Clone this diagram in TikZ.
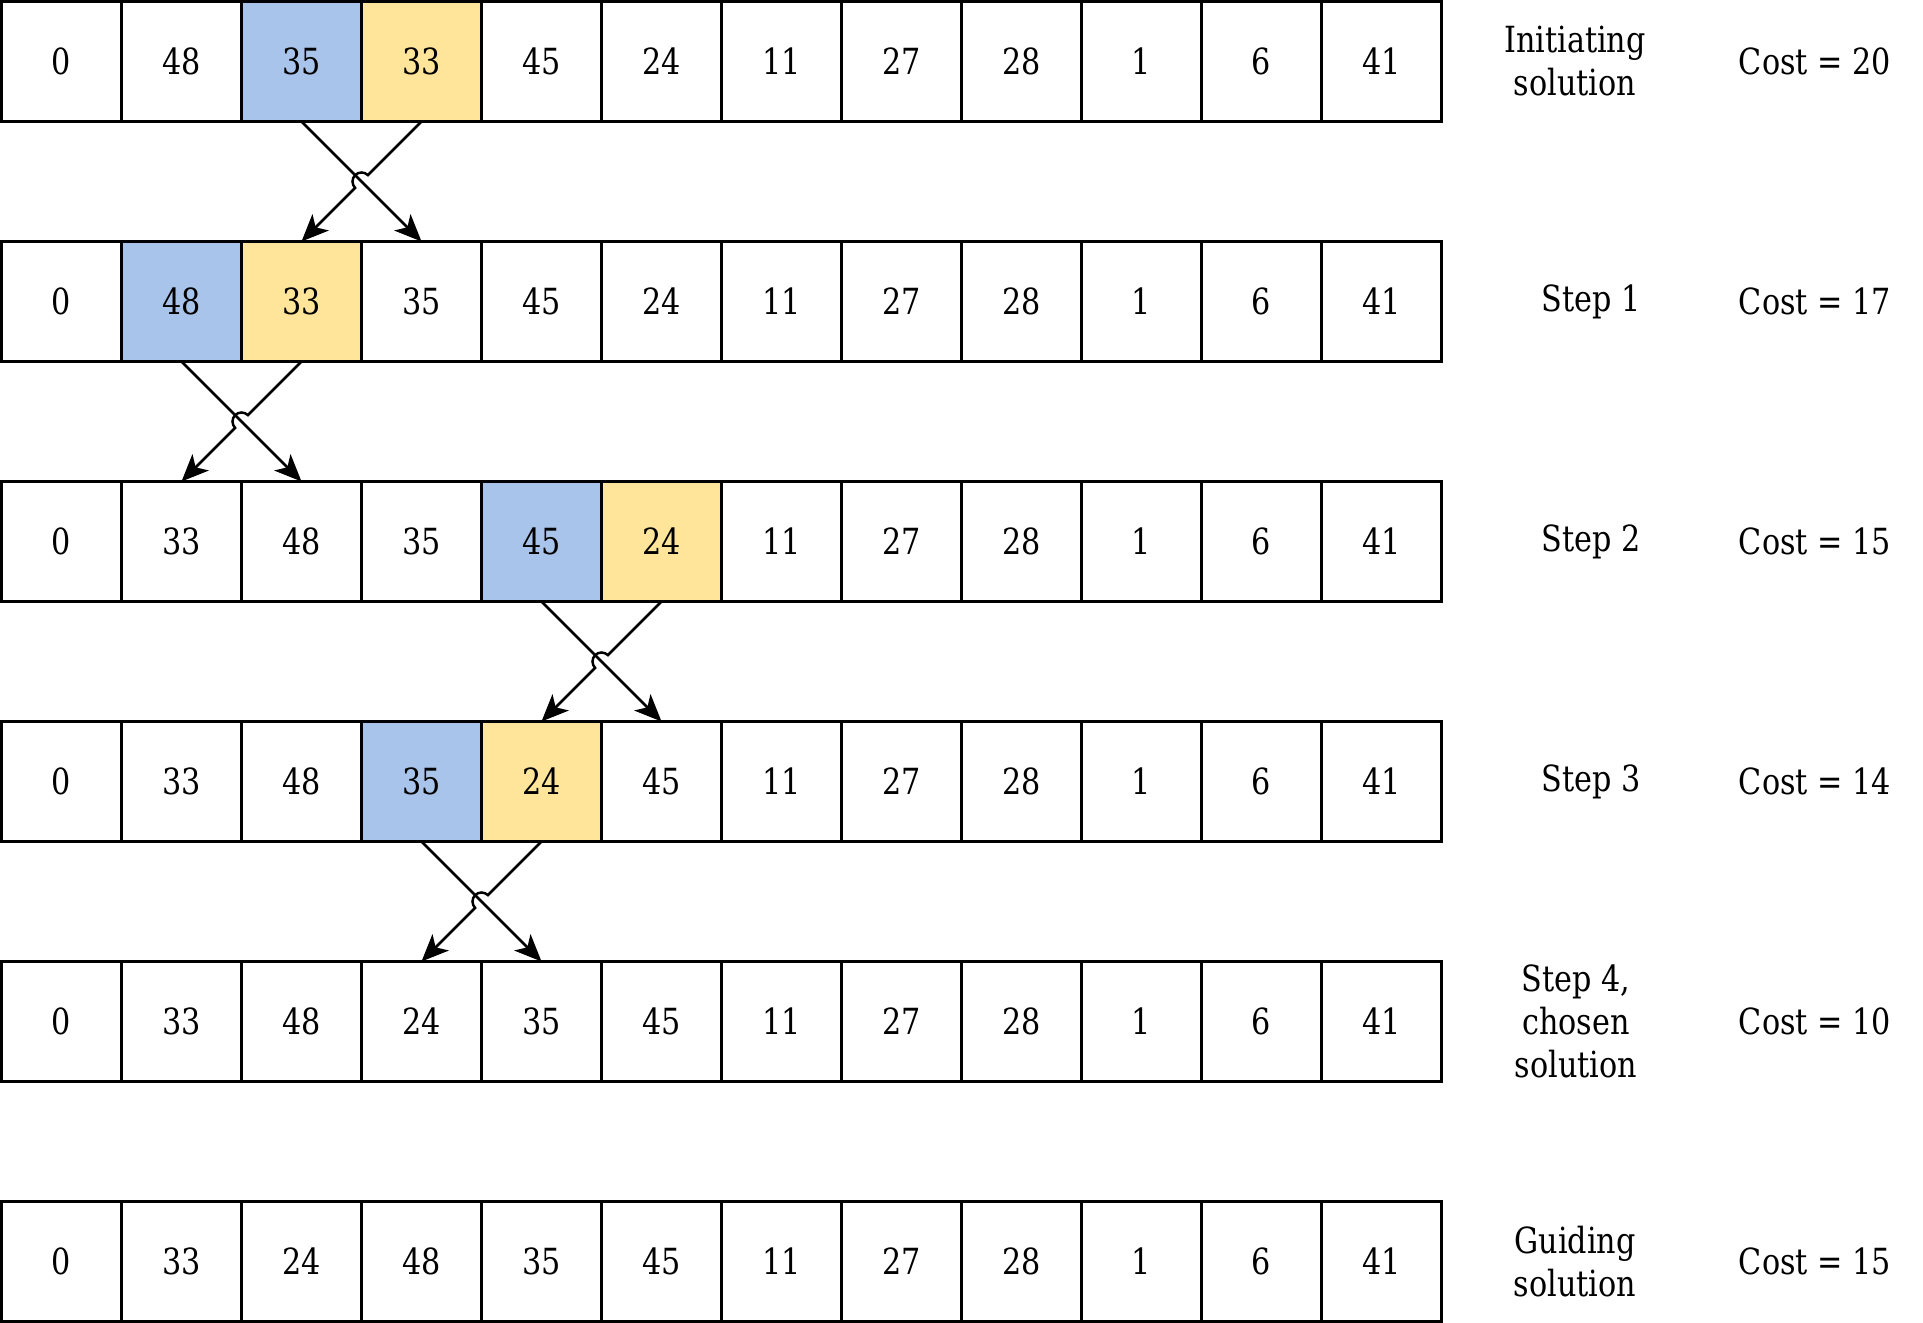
\documentclass[tikz,border=0pt]{standalone}
\usepackage{fontspec}
\setmainfont{DejaVu Serif}[FakeStretch=0.84]
\usetikzlibrary{arrows.meta,calc}
\definecolor{cblue}{HTML}{A9C4EB}
\definecolor{cyellow}{HTML}{FFE599}
\begin{document}
\begin{tikzpicture}[x=1pt,y=1pt,
  cell/.style={draw=black, line width=2.5pt, minimum width=120pt, minimum height=120pt, inner sep=0pt, outer sep=0pt, font=\fontsize{36}{43}\selectfont},
  bl/.style={cell, fill=cblue},
  yl/.style={cell, fill=cyellow},
  lbl/.style={align=center, font=\fontsize{36}{43}\selectfont, inner sep=0pt},
  arr/.style={line width=2.5pt, -{Stealth[length=27pt,width=23pt,inset=7pt]}}]
\useasboundingbox (0,0) rectangle (1923,1323);
\foreach \r/\b/\y/\vals in {
  0/2/3/{0,48,35,33,45,24,11,27,28,1,6,41},
  1/1/2/{0,48,33,35,45,24,11,27,28,1,6,41},
  2/4/5/{0,33,48,35,45,24,11,27,28,1,6,41},
  3/3/4/{0,33,48,35,24,45,11,27,28,1,6,41},
  4/-1/-1/{0,33,48,24,35,45,11,27,28,1,6,41},
  5/-1/-1/{0,33,24,48,35,45,11,27,28,1,6,41}}{
  \foreach \v [count=\i from 0] in \vals {
    \def\st{cell}
    \ifnum\i=\b\relax\def\st{bl}\fi
    \ifnum\i=\y\relax\def\st{yl}\fi
    \node[\st] (c-\r-\i) at ({61.5+120*\i},{1261.5-240*\r}) {\v};
  }
}
\foreach \r/\n/\a/\b in {0/1/2/3, 1/2/1/2, 2/3/4/5, 3/4/3/4}{
  \draw[arr] (c-\r-\a.south) -- (c-\n-\b.north);
  \coordinate (x-\r) at ($(c-\r-\b.south)!0.5!(c-\n-\a.north)$);
  \draw[arr] (c-\r-\b.south) -- ($(x-\r)+(45:9)$) arc[start angle=45,end angle=225,radius=9] -- (c-\n-\a.north);
}
\node[lbl] (l0) at (1575,1261.5) {Initiating\\solution};
\node[lbl] (l1) at (1591,1021.5) {Step 1};
\node[lbl] (l2) at (1591,781.5) {Step 2};
\node[lbl] (l3) at (1591,541.5) {Step 3};
\node[lbl] (l4) at (1576,301.5) {Step 4,\\chosen\\solution};
\node[lbl] (l5) at (1575,61.5) {Guiding\\solution};
\node[lbl] (k0) at (1815,1261.5) {Cost = 20};
\node[lbl] (k1) at (1815,1021.5) {Cost = 17};
\node[lbl] (k2) at (1815,781.5) {Cost = 15};
\node[lbl] (k3) at (1815,541.5) {Cost = 14};
\node[lbl] (k4) at (1815,301.5) {Cost = 10};
\node[lbl] (k5) at (1815,61.5) {Cost = 15};
\end{tikzpicture}
\end{document}
